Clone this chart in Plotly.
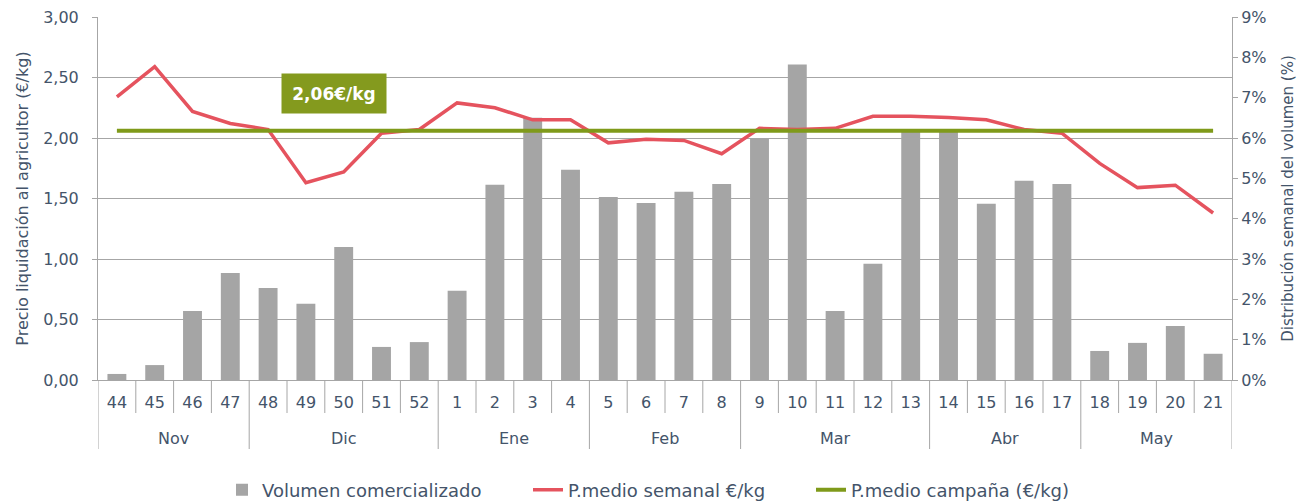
import plotly.graph_objects as go

weeks = ["44", "45", "46", "47", "48", "49", "50", "51", "52", "1", "2", "3", "4", "5", "6", "7", "8",
         "9", "10", "11", "12", "13", "14", "15", "16", "17", "18", "19", "20", "21"]
months = ["Nov"] * 4 + ["Dic"] * 5 + ["Ene"] * 4 + ["Feb"] * 4 + ["Mar"] * 5 + ["Abr"] * 4 + ["May"] * 4
volume_pct = [0.15, 0.37, 1.71, 2.65, 2.28, 1.89, 3.30, 0.82, 0.94, 2.21, 4.84, 6.50, 5.21, 4.54, 4.39,
              4.67, 4.86, 6.00, 7.82, 1.71, 2.88, 6.18, 6.18, 4.37, 4.94, 4.86, 0.72, 0.92, 1.34, 0.65]
price_week = [2.34, 2.59, 2.22, 2.12, 2.07, 1.63, 1.72, 2.04, 2.07, 2.29, 2.25, 2.15, 2.15, 1.96, 1.99,
              1.98, 1.87, 2.08, 2.07, 2.08, 2.18, 2.18, 2.17, 2.15, 2.07, 2.04, 1.79, 1.59, 1.61, 1.38]
price_campaign = 2.06

names = ["Volumen comercializado", "P.medio semanal €/kg", "P.medio campaña (€/kg)"]

FONT = "DejaVu Sans"
TXT = "#44546A"
GRID = "#A6A6A6"
x = list(range(len(weeks)))

fig = go.Figure()
fig.add_trace(go.Bar(x=x, y=volume_pct, name=names[0], marker=dict(color="#A5A5A5", line=dict(width=0)),
                     width=0.5, yaxis="y", legend="legend"))
fig.add_trace(go.Scatter(x=x, y=price_week, name=names[1], mode="lines",
                         line=dict(color="#E5535E", width=3.5), yaxis="y2", legend="legend2"))
fig.add_trace(go.Scatter(x=x, y=[price_campaign] * len(x), name=names[2], mode="lines",
                         line=dict(color="#7F9A1A", width=4), yaxis="y2", legend="legend3"))

# separators below the axis
shapes = []
H = 363.0
W = 1134.0
short = -33 / H
long_ = -69 / H
for i in range(len(weeks) + 1):
    pos = i - 0.5
    is_month = i == 0 or i == len(weeks) or months[i] != months[i - 1]
    shapes.append(dict(type="line", xref="x", yref="paper", x0=pos, x1=pos, y0=0,
                       y1=long_ if is_month else short, line=dict(color=GRID, width=1)))

annotations = []
start = 0
for i in range(1, len(months) + 1):
    if i == len(months) or months[i] != months[start]:
        annotations.append(dict(x=(start + i - 1) / 2, y=-58 / H, xref="x", yref="paper",
                                text=months[start], showarrow=False, yanchor="middle",
                                font=dict(family=FONT, size=16, color=TXT)))
        start = i

label = f"{price_campaign:.2f}".replace(".", ",") + "€/kg"
annotations.append(dict(x=(334 - 98) / W, y=(380 - 93) / H, xref="paper", yref="paper",
                        text=f"<b>{label}</b>", showarrow=False, bgcolor="#849A1E", width=102, height=37,
                        font=dict(family=FONT, size=17, color="white"), xanchor="center", yanchor="middle"))


def leg(left_px):
    return dict(orientation="h", x=(left_px - 98) / W, xanchor="left", y=-110 / H, yanchor="middle",
                font=dict(family=FONT, size=18, color=TXT), bgcolor="rgba(0,0,0,0)")


fig.update_layout(
    width=1297, height=502,
    margin=dict(l=98, r=65, t=17, b=122, autoexpand=False),
    paper_bgcolor="white", plot_bgcolor="white",
    separators=",.",
    font=dict(family=FONT, size=16, color=TXT),
    showlegend=True,
    legend=leg(222),
    legend2=leg(528),
    legend3=leg(811),
    xaxis=dict(range=[-0.5, len(weeks) - 0.5], tickmode="array", tickvals=x, ticktext=weeks,
               showgrid=False, zeroline=False, showline=True, linecolor=GRID, linewidth=1,
               ticks="outside", ticklen=8, tickcolor="rgba(0,0,0,0)", automargin=False,
               tickfont=dict(family=FONT, size=16, color=TXT)),
    yaxis=dict(range=[0, 9], dtick=1, ticksuffix="%", side="right", showgrid=False, zeroline=False,
               showline=True, linecolor=GRID, ticks="outside", ticklen=5, tickcolor=GRID, automargin=False,
               title=dict(text="Distribución semanal del volumen (%)", standoff=16,
                          font=dict(family=FONT, size=15, color=TXT)),
               tickfont=dict(family=FONT, size=16, color=TXT)),
    yaxis2=dict(range=[0, 3], dtick=0.5, tickformat=".2f", side="left", overlaying="y",
                showgrid=True, gridcolor=GRID, gridwidth=1, zeroline=False, automargin=False,
                showline=True, linecolor=GRID, ticks="outside", ticklen=5, tickcolor=GRID,
                ticklabelstandoff=10,
                title=dict(text="Precio liquidación al agricultor (€/kg)", standoff=10,
                           font=dict(family=FONT, size=16, color=TXT)),
                tickfont=dict(family=FONT, size=16, color=TXT)),
    shapes=shapes,
    annotations=annotations,
)

fig.write_html("out.html", post_script="document.body.style.margin='0';",
               config={"displayModeBar": False})
